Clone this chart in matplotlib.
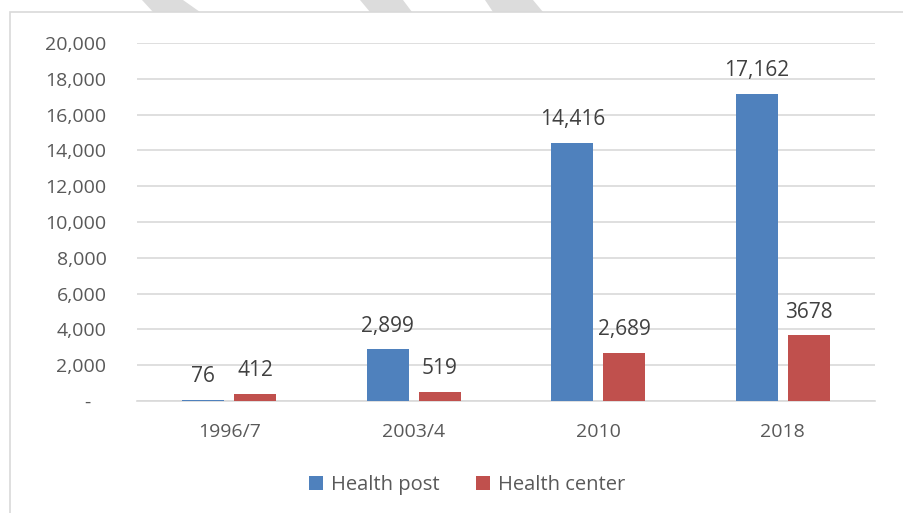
import numpy as np
import matplotlib.pyplot as plt
from matplotlib.patches import Rectangle, Polygon

# data
years = ['1996/7', '2003/4', '2010', '2018']
health_post = [76, 2899, 14416, 17162]
health_center = [412, 519, 2689, 3678]
post_labels = ['76', '2,899', '14,416', '17,162']
center_labels = ['412', '519', '2,689', '3678']
yticks = [0, 2000, 4000, 6000, 8000, 10000, 12000, 14000, 16000, 18000, 20000]

plt.rcParams['font.family'] = ['Open Sans', 'DejaVu Sans']

W, H = 904, 513
fig = plt.figure(figsize=(W / 100, H / 100), dpi=100)
ax = fig.add_axes([137 / W, 1 - 401 / H, (875 - 137) / W, (401 - 43) / H])

# faint watermark stripes at the very top and the chart frame
for x0, x1, x2, x3 in [(142, 183, 200, 153), (360, 403, 412, 370), (485, 533, 543, 493)]:
    fig.add_artist(Polygon([(x0 / W, 1), (x1 / W, 1), (x2 / W, 1 - 12 / H), (x3 / W, 1 - 12 / H)],
                           closed=True, transform=fig.transFigure, facecolor='#dcdcdc',
                           edgecolor='none'))
fig.add_artist(Rectangle((10 / W, -0.1), 1.2, 1.1 - 12 / H, transform=fig.transFigure,
                         facecolor='none', edgecolor='#d9d9d9', linewidth=1.2))

x = np.arange(len(years))
w = 0.228
off = 0.141
b1 = ax.bar(x - off, health_post, w, color='#4f81bd', label='Health post', zorder=3)
b2 = ax.bar(x + off, health_center, w, color='#c0504d', label='Health center', zorder=3)

for bars, labels in [(b1, post_labels), (b2, center_labels)]:
    for rect, lab in zip(bars, labels):
        ax.annotate(lab, (rect.get_x() + rect.get_width() / 2, rect.get_height()),
                    xytext=(0, 9), textcoords='offset points', ha='center', va='bottom',
                    fontsize=15, color='#404040')

ax.set_xlim(-0.5, 3.5)
ax.set_ylim(0, 20000)
ax.set_yticks(yticks)
# accounting style: zero shown as a dash, padded on the right
ax.set_yticklabels(['-\u00a0\u00a0\u00a0'] + [f'{v:,}' for v in yticks[1:]])
ax.set_xticks(x)
ax.set_xticklabels(years)
ax.tick_params(axis='both', length=0, labelsize=14, colors='#595959')
ax.tick_params(axis='y', pad=22)
ax.tick_params(axis='x', pad=16)
ax.grid(axis='y', color='#d9d9d9', linewidth=1.2, zorder=0)
for s in ['top', 'right', 'left']:
    ax.spines[s].set_visible(False)
ax.spines['bottom'].set_color('#d9d9d9')
ax.spines['bottom'].set_linewidth(1.2)

ax.legend(loc='center', bbox_to_anchor=(467 / W, 1 - 485 / H), bbox_transform=fig.transFigure,
          ncol=2, frameon=False, fontsize=14.5, labelcolor='#595959',
          handlelength=0.7, handleheight=0.7, columnspacing=1.8, handletextpad=0.4)

fig.savefig('out.png', dpi=100)
